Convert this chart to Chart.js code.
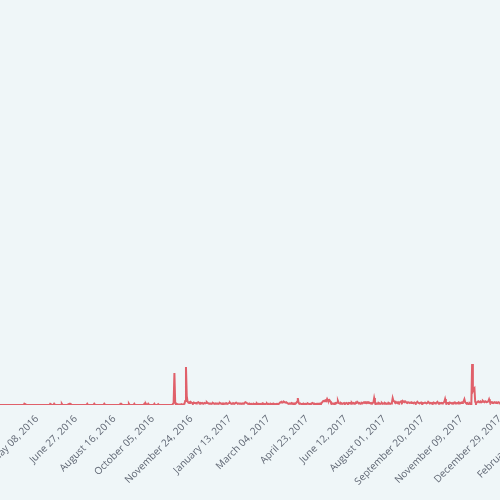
<!DOCTYPE html>
<html>
<head>
<meta charset="utf-8">
<script src="https://cdn.jsdelivr.net/npm/chart.js@4/dist/chart.umd.min.js"></script>
<style>
  html, body { margin: 0; padding: 0; overflow: hidden; background: #eff6f8; }
  #wrap { position: absolute; left: -40px; top: 0; width: 617px; height: 500px; }
</style>
</head>
<body>
<div id="wrap"><canvas id="myChart"></canvas></div>
<script>
// daily values, first day is startDate
const startDate = '2016-03-14';
const dailyValues = [
  0,0,0,0,0,0,0,0,0,0, 0,0,0,0,0,0,0,0,0,0,
  0,0,0,0,0,0,0,0,0,0, 0,0,0,0,0,0,0,0,2,3,
  2,0,0,0,0,0,0,0,0,0, 0,0,0,0,0,0,0,0,0,0,
  0,0,0,0,0,0,0,0,0,0, 0,0,3,2,0,0,0,3,0,0,
  0,0,0,0,0,0,0,3,0,0, 0,0,0,0,0,0,2,3,3,2,
  0,0,0,0,0,0,0,0,0,0, 0,0,0,0,0,0,0,0,0,0,
  3,0,0,0,0,0,0,0,0,3, 0,0,0,0,0,0,0,0,0,0,
  0,0,3,0,0,0,0,0,0,0, 0,0,0,0,0,0,0,0,0,0,
  0,0,0,3,3,0,0,0,0,0, 0,0,0,0,3,0,0,0,0,0,
  0,3,0,0,0,0,0,0,0,0, 0,0,0,0,3,0,3,0,0,3,
  0,0,0,0,0,0,0,3,0,0, 0,0,2,0,0,0,0,0,0,0,
  0,0,0,0,0,0,0,0,0,0, 0,0,5,79,6,1,1,2,1,1,
  1,1,2,1,1,2,3,10,94,22, 9,6,5,7,8,6,5,4,6,5,
  5,4,5,6,7,5,4,5,4,5, 4,4,5,4,5,7,5,4,3,4,
  4,3,4,5,4,3,4,3,4,4, 3,4,5,4,3,4,3,4,3,4,
  3,4,3,4,5,6,4,3,4,3, 4,3,5,6,5,3,4,3,4,4,
  3,4,3,4,5,7,6,5,3,3, 2,3,2,3,2,2,3,2,3,2,
  4,2,3,2,3,2,2,4,2,3, 2,2,3,4,2,3,2,2,3,2,
  3,2,3,2,2,3,2,3,2,4, 6,7,8,6,7,8,7,6,7,5,
  4,3,4,3,4,5,3,4,3,4, 3,5,8,17,6,3,4,3,2,3,
  2,3,2,3,2,3,4,3,2,3, 2,4,5,3,2,3,2,3,2,3,
  3,2,4,3,5,8,10,9,11,12, 10,15,11,10,12,9,5,3,4,3,
  4,3,5,4,6,10,5,4,3,5, 4,3,4,5,3,4,5,4,3,5,
  4,5,3,6,4,5,3,4,6,5, 8,6,4,5,3,4,5,4,6,7,
  6,7,5,7,6,7,5,4,5,4, 5,6,17,8,4,3,4,3,5,4,
  3,4,5,3,4,3,5,4,3,4, 3,5,4,3,4,6,17,10,9,7,
  8,6,5,7,5,6,8,9,7,10, 8,7,9,8,6,5,7,6,5,6,
  5,6,5,4,6,5,4,6,8,6, 5,4,5,6,4,5,4,5,6,5,
  4,5,8,6,4,5,4,5,4,6, 5,4,5,6,8,5,4,5,4,5,
  4,5,6,8,15,7,5,4,5,4, 6,5,4,5,4,5,6,4,5,4,
  5,4,6,5,4,6,5,7,9,14, 7,5,4,5,2,3,4,2,1,101,
  35,40,42,8,4,6,8,9,7,8, 9,7,8,10,8,7,9,8,7,8,
  9,14,8,6,7,5,6,5,7,6, 5,6,5,7,6,5,6,5,6,7,6
];
const tickDates = [
  '2016-05-08','2016-06-27','2016-08-16','2016-10-05','2016-11-24',
  '2017-01-13','2017-03-04','2017-04-23','2017-06-12','2017-08-01',
  '2017-09-20','2017-11-09','2017-12-29','2018-02-17'
];

const DAY = 86400000;
const dayNum = s => Date.parse(s + 'T00:00:00Z') / DAY;
const months = ['January','February','March','April','May','June','July',
  'August','September','October','November','December'];
const fmtDay = n => {
  const d = new Date(Math.round(n) * DAY);
  const dd = String(d.getUTCDate()).padStart(2, '0');
  return months[d.getUTCMonth()] + ' ' + dd + ', ' + d.getUTCFullYear();
};

const start = dayNum(startDate);
const points = dailyValues.map((v, i) => ({x: start + i, y: v}));
const firstTick = dayNum(tickDates[0]);

const ctx = document.getElementById('myChart');
new Chart(ctx, {
  type: 'line',
  data: {
    datasets: [{
      data: points,
      borderColor: '#e0606a',
      borderWidth: 2,
      pointRadius: 0,
      tension: 0,
      fill: false
    }]
  },
  options: {
    responsive: true,
    maintainAspectRatio: false,
    animation: false,
    layout: {padding: 0},
    plugins: {legend: {display: false}, tooltip: {enabled: false}},
    scales: {
      x: {
        type: 'linear',
        min: firstTick - 100,
        max: firstTick + 700,
        grid: {display: false},
        border: {display: false},
        ticks: {
          autoSkip: false,
          minRotation: 45,
          maxRotation: 45,
          padding: 0,
          color: '#5f6673',
          font: {family: 'Open Sans', size: 10},
          callback: v => fmtDay(v)
        },
        afterBuildTicks: scale => {
          scale.ticks = tickDates.map(s => ({value: dayNum(s)}));
        },
        afterFit: scale => {
          scale.height = 95;
          scale.paddingLeft = 0;
          scale.paddingRight = 0;
        }
      },
      y: {
        display: false,
        min: 0,
        max: 1000
      }
    }
  }
});
</script>
</body>
</html>
